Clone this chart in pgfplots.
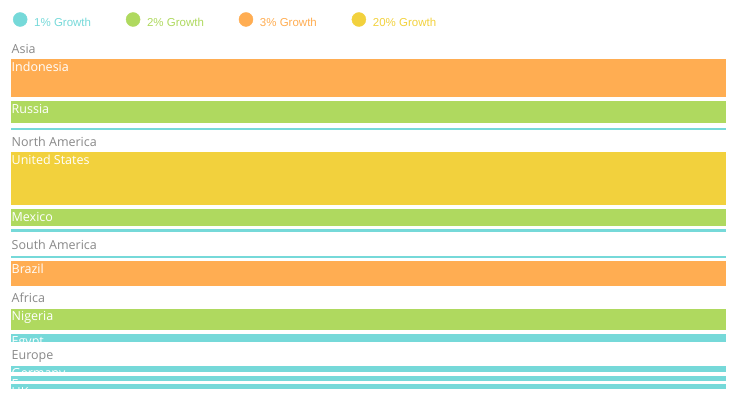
\documentclass[border=0pt]{standalone}
\usepackage{pgfplots}
\pgfplotsset{compat=1.18}
\usepackage{fontspec}
\setmainfont{Open Sans}
\newfontfamily\legendfont{Liberation Sans}

\definecolor{g1}{HTML}{76D9D9}
\definecolor{g2}{HTML}{AFD95F}
\definecolor{g3}{HTML}{FFAD52}
\definecolor{g20}{HTML}{F2D13D}
\definecolor{grouptext}{HTML}{888888}

\newcommand{\labelfont}{\fontsize{12.5bp}{15bp}\selectfont}

% region heading: name, baseline
\newcommand{\region}[2]{%
  \node[anchor=base west, inner sep=0pt, text=grouptext, font=\labelfont]
    at (axis cs:11.5,#2) {#1};}

% country band: name, top, bottom, label baseline, colour
\newcommand{\country}[5]{%
  \addplot[fill=#5, draw=none, forget plot]
    coordinates {(11,#2) (725.7,#2) (725.7,#3) (11,#3)};
  \pgfplotsextra{%
    \begin{scope}
      \clip (axis cs:11,#2) rectangle (axis cs:725.7,#3);
      \node[anchor=base west, inner sep=0pt, text=white, font=\labelfont]
        at (axis cs:11.5,#4) {#1};
    \end{scope}}%
}
% thin band whose label does not fit
\newcommand{\sliver}[3]{%
  \addplot[fill=#3, draw=none, forget plot]
    coordinates {(11,#1) (725.7,#1) (725.7,#2) (11,#2)};}

\pgfplotsset{legend dot/.style={legend image code/.code={%
  \fill[#1] (7bp,0.33em) circle (7bp);
  \path[draw=none] (0,0.33em) -- (21bp,0.33em);}}}

\begin{document}
\begin{tikzpicture}
\begin{axis}[
  scale only axis,
  width=737bp, height=405bp,
  xmin=0, xmax=737, ymin=0, ymax=405,
  hide axis,
  clip=false,
  legend columns=4,
  legend style={
    at={(axis cs:13,385)}, anchor=west,
    draw=none, fill=none, inner sep=0pt, outer sep=0pt,
    /tikz/column sep=0pt,
    nodes={inner sep=0pt},
    font=\legendfont\fontsize{11.5bp}{13bp}\selectfont,
  },
]
\path (axis cs:0,0) rectangle (axis cs:737,405);

\addlegendimage{legend dot=g1}
\addlegendentry{\makebox[91.7bp][l]{\textcolor{g1}{1\% Growth}}}
\addlegendimage{legend dot=g2}
\addlegendentry{\makebox[91.7bp][l]{\textcolor{g2}{2\% Growth}}}
\addlegendimage{legend dot=g3}
\addlegendentry{\makebox[91.7bp][l]{\textcolor{g3}{3\% Growth}}}
\addlegendimage{legend dot=g20}
\addlegendentry{\makebox[91.7bp][l]{\textcolor{g20}{20\% Growth}}}

% Asia
\region{Asia}{351.7}
\country{Indonesia}{345.7}{307.7}{333.6}{g3}
\country{Russia}{304}{281.7}{291.4}{g2}
\sliver{277}{275.4}{g1}

% North America
\region{North America}{258.7}
\country{United States}{253}{199.7}{240.8}{g20}
\country{Mexico}{196}{179.3}{183.8}{g2}
\sliver{175.7}{173.3}{g1}

% South America
\region{South America}{155}
\sliver{149.3}{147}{g1}
\country{Brazil}{143.7}{119.3}{131.6}{g3}

% Africa
\region{Africa}{102.3}
\country{Nigeria}{96.3}{75.3}{84.2}{g2}
\country{Egypt}{71.3}{63.3}{59.2}{g1}

% Europe
\region{Europe}{45}
\country{Germany}{39.3}{32.7}{27.2}{g1}
\country{France}{28.7}{24}{16.6}{g1}
\country{UK}{20.7}{16}{8.6}{g1}
\end{axis}
\end{tikzpicture}
\end{document}
